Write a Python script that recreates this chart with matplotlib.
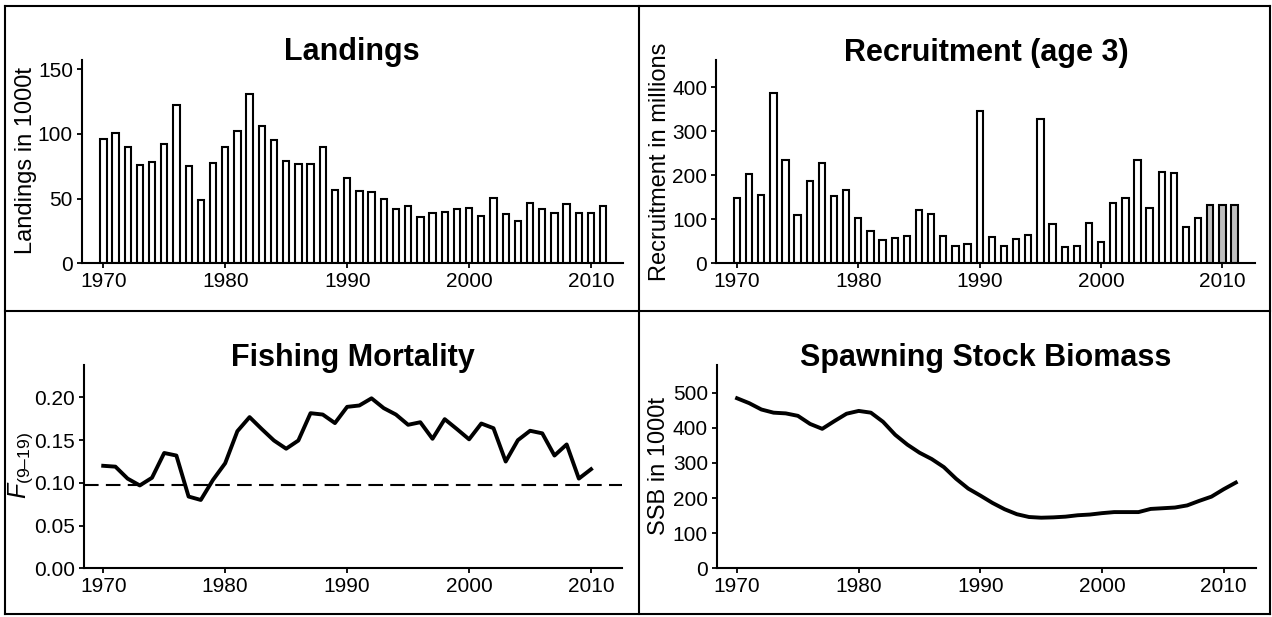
import matplotlib
matplotlib.use('Agg')
import matplotlib.pyplot as plt
from matplotlib.lines import Line2D

plt.rcParams['font.family'] = ['Liberation Sans', 'DejaVu Sans']
plt.rcParams['mathtext.fontset'] = 'custom'
plt.rcParams['mathtext.rm'] = 'Liberation Sans'
plt.rcParams['mathtext.it'] = 'Liberation Sans:italic'

# Stock assessment series
years = list(range(1970, 2012))
landings = [96.2, 100.8, 90.0, 76.2, 78.5, 91.8, 122.3, 75.4, 48.5, 77.2,
            89.5, 102.0, 130.5, 105.9, 95.4, 78.7, 76.9, 76.4, 89.7, 56.7,
            66.2, 55.9, 55.4, 50.0, 42.3, 44.4, 35.4, 38.7, 39.5, 42.3,
            42.6, 36.7, 50.5, 37.9, 32.6, 46.4, 42.0, 39.0, 45.9, 39.2,
            38.7, 44.4]
recruitment = [149, 203, 155, 386, 234, 110, 187, 227, 153, 167,
               102, 73, 54, 57, 63, 120, 113, 61, 39, 44,
               345, 59, 39, 55, 64, 327, 89, 37, 40, 91,
               49, 136, 149, 234, 126, 208, 205, 83, 102, 133,
               133, 133]
# last three recruitment years are assumed values (grey bars)
rec_assumed = [2009, 2010, 2011]

f_years = list(range(1970, 2011))
fbar = [0.120, 0.119, 0.105, 0.097, 0.106, 0.135, 0.132, 0.084, 0.080, 0.1035,
        0.123, 0.1605, 0.177, 0.163, 0.1496, 0.140, 0.1496, 0.1816, 0.180, 0.170,
        0.189, 0.1906, 0.199, 0.1875, 0.180, 0.168, 0.171, 0.1516, 0.1746, 0.163,
        0.151, 0.1695, 0.164, 0.125, 0.150, 0.161, 0.158, 0.132, 0.145, 0.105,
        0.116]
f_ref = 0.097

ssb = [484, 470, 452, 443, 441, 434, 411, 397, 419, 440,
       448, 443, 417, 380, 352, 329, 311, 288, 255, 227,
       207, 186, 168, 154, 146, 144, 145, 147, 151, 153,
       157, 160, 160, 160, 169, 171, 173, 179, 192, 204,
       225, 244]

W, H = 1272, 617
fig = plt.figure(figsize=(W / 100, H / 100), dpi=100)


def px_axes(x0, y0, x1, y1):
    return fig.add_axes([x0 / W, 1 - y1 / H, (x1 - x0) / W, (y1 - y0) / H])


def style(ax, xlim, ylim, yticks, fmt=None):
    ax.set_xlim(*xlim)
    ax.set_ylim(*ylim)
    for s in ['top', 'right']:
        ax.spines[s].set_visible(False)
    for s in ['left', 'bottom']:
        ax.spines[s].set_linewidth(1.5)
    ax.set_xticks([1970, 1980, 1990, 2000, 2010])
    ax.set_yticks(yticks)
    if fmt:
        ax.set_yticklabels([fmt % v for v in yticks])
    ax.tick_params(direction='out', length=3.5, width=1.3, labelsize=15, pad=3)
    ax.patch.set_alpha(0)


def fig_text(x, y, s, **kw):
    fig.text(x / W, 1 - y / H, s, **kw)


# Landings
ax1 = px_axes(82, 60, 622.5, 263.3)
ax1.bar(years, landings, width=0.52, color='white', edgecolor='black', linewidth=1.5)
style(ax1, (1968.25, 2012.58), (0, 157), [0, 50, 100, 150])
fig_text(352, 60, 'Landings', ha='center', va='baseline', fontsize=22, fontweight='bold')
fig_text(26, 160, 'Landings in 1000t', rotation=90, ha='center', va='center', fontsize=17)

# Recruitment
ax2 = px_axes(716.3, 60, 1255, 263.3)
rec_colors = ['#bfbfbf' if y in rec_assumed else 'white' for y in years]
ax2.bar(years, recruitment, width=0.52, color=rec_colors, edgecolor='black', linewidth=1.5)
style(ax2, (1968.3, 2012.68), (0, 462), [0, 100, 200, 300, 400])
fig_text(986, 61, 'Recruitment (age 3)', ha='center', va='baseline', fontsize=22, fontweight='bold')
fig_text(660, 162, 'Recruitment in millions', rotation=90, ha='center', va='center', fontsize=17)

# Fishing mortality with reference level
ax3 = px_axes(83.7, 365, 622.4, 568.3)
ax3.axhline(f_ref, color='black', linewidth=1.5, dashes=(7, 3.5))
ax3.plot(f_years, fbar, color='black', linewidth=2.8, solid_joinstyle='round')
style(ax3, (1968.4, 2012.57), (0, 0.238), [0.0, 0.05, 0.10, 0.15, 0.20], fmt='%.2f')
fig_text(353, 366, 'Fishing Mortality', ha='center', va='baseline', fontsize=22, fontweight='bold')
fig_text(21, 466, '$\\mathit{F}_{\\mathrm{(9\u201319)}}$', rotation=90, ha='center', va='center', fontsize=18)

# Spawning stock biomass
ax4 = px_axes(717, 365, 1256, 568.3)
ax4.plot(years, ssb, color='black', linewidth=2.8, solid_joinstyle='round')
style(ax4, (1968.35, 2012.66), (0, 578.7), [0, 100, 200, 300, 400, 500])
fig_text(986, 366, 'Spawning Stock Biomass', ha='center', va='baseline', fontsize=22, fontweight='bold')
fig_text(659, 466, 'SSB in 1000t', rotation=90, ha='center', va='center', fontsize=17)

# panel frame
frame = [((5, 1270), (6, 6)), ((5, 1270), (614, 614)), ((5, 5), (6, 614)),
         ((1270, 1270), (6, 614)), ((639, 639), (6, 614)), ((5, 1270), (311, 311))]
for xs, ys in frame:
    fig.add_artist(Line2D([x / W for x in xs], [1 - y / H for y in ys],
                          color='black', linewidth=1.5, transform=fig.transFigure))

fig.savefig('out.png', dpi=100)
